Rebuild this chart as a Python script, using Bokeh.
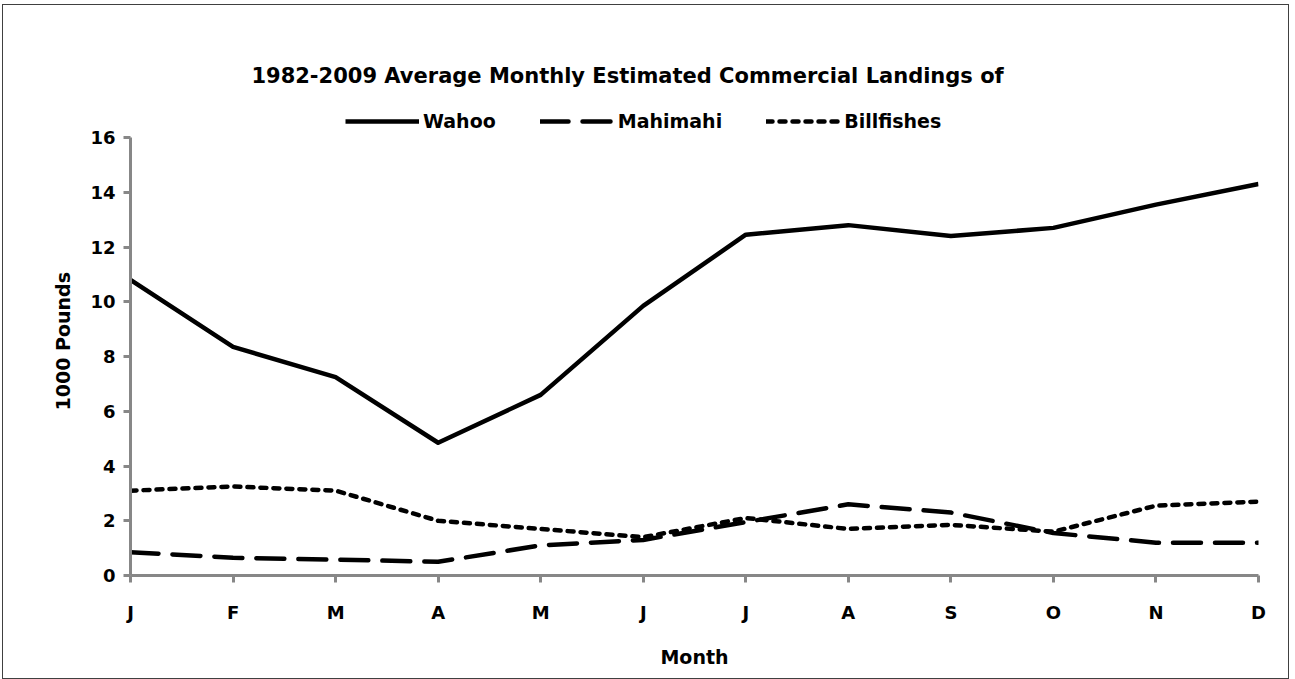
from bokeh.plotting import figure
from bokeh.models import FixedTicker, Legend, LegendItem, Label, Title
from bokeh.embed import file_html
from bokeh.resources import INLINE

months = ["J", "F", "M", "A", "M", "J", "J", "A", "S", "O", "N", "D"]
month_idx = list(range(12))
wahoo = [10.8, 8.35, 7.25, 4.85, 6.6, 9.85, 12.45, 12.8, 12.4, 12.7, 13.55, 14.3]
mahimahi = [0.85, 0.65, 0.58, 0.5, 1.1, 1.3, 1.95, 2.6, 2.3, 1.55, 1.2, 1.2]
billfishes = [3.1, 3.25, 3.1, 2.0, 1.7, 1.4, 2.1, 1.7, 1.85, 1.6, 2.55, 2.7]
y_ticks = [0, 2, 4, 6, 8, 10, 12, 14, 16]
title_text = "1982-2009  Average  Monthly  Estimated  Commercial  Landings  of"

FONT = "DejaVu Sans"
AXIS_GRAY = "#878787"

# y range extends above 16 to leave room (inside the frame) for title and legend
p = figure(width=1287, height=675, output_backend="svg", toolbar_location=None,
           x_range=(0, 11), y_range=(0, 19.18),
           min_border_left=127, min_border_right=32, min_border_top=45, min_border_bottom=105)
p.styles = {"border": "1px solid #404040", "margin-left": "2px", "margin-top": "4px"}
p.outline_line_color = None
p.xgrid.visible = False
p.ygrid.visible = False

r1 = p.line(month_idx, wahoo, line_color="black", line_width=4.5, line_join="round")
r2 = p.line(month_idx, mahimahi, line_color="black", line_width=4.5, line_dash="28 14",
            line_cap="round", line_join="round")
r3 = p.line(month_idx, billfishes, line_color="black", line_width=4.5, line_dash="6 7",
            line_cap="round", line_join="round")

for ax in (p.xaxis[0], p.yaxis[0]):
    ax.axis_line_color = AXIS_GRAY
    ax.axis_line_width = 3
    ax.major_tick_line_color = AXIS_GRAY
    ax.major_tick_line_width = 3
    ax.major_tick_in = 0
    ax.major_tick_out = 7
    ax.minor_tick_line_color = None
    ax.major_label_text_font = FONT
    ax.major_label_text_font_style = "bold"
    ax.major_label_text_font_size = "18px"
    ax.major_label_text_color = "black"
    ax.axis_label_text_font = FONT
    ax.axis_label_text_font_style = "bold"
    ax.axis_label_text_font_size = "19px"
    ax.axis_label_text_color = "black"

p.xaxis.ticker = FixedTicker(ticks=month_idx)
p.xaxis.major_label_overrides = {i: m for i, m in zip(month_idx, months)}
p.xaxis.major_label_standoff = 19
p.xaxis.axis_label = "Month"
p.xaxis.axis_label_standoff = 20

p.yaxis.ticker = FixedTicker(ticks=y_ticks)
p.yaxis.bounds = (0, 16)
p.yaxis.major_label_standoff = 8

# y axis title, placed along the 0-16 part of the axis
ytitle = Title(text="1000 Pounds", align="left", offset=165, standoff=28,
               text_font=FONT, text_font_style="bold", text_font_size="19px", text_color="black")
p.add_layout(ytitle, "left")

p.add_layout(Label(x=519, y=500, x_units="screen", y_units="screen", text=title_text,
                   text_align="center", text_baseline="middle", text_font=FONT,
                   text_font_style="bold", text_font_size="21px", text_color="black"))

legend = Legend(items=[LegendItem(label="Wahoo", renderers=[r1]),
                       LegendItem(label="Mahimahi", renderers=[r2]),
                       LegendItem(label="Billfishes", renderers=[r3])],
                orientation="horizontal", location=(215, 443),
                label_text_font=FONT, label_text_font_style="bold", label_text_font_size="19px",
                label_text_color="black",
                glyph_width=74, glyph_height=20, spacing=44, label_standoff=4,
                border_line_color=None, background_fill_alpha=0, padding=2, margin=0)
p.add_layout(legend, "center")

open("out.html", "w").write(file_html(p, INLINE))
